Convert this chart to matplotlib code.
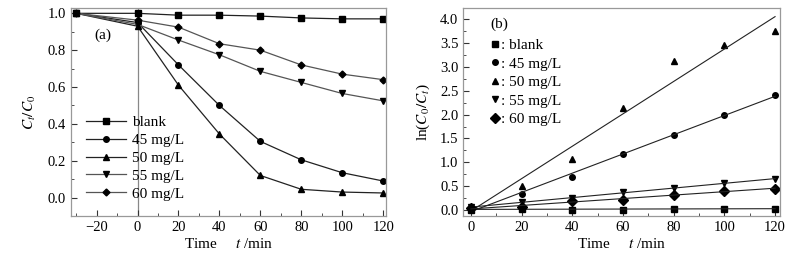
import numpy as np
import matplotlib
matplotlib.use("Agg")
import matplotlib.pyplot as plt
from matplotlib.ticker import MultipleLocator

plt.rcParams['font.family'] = 'serif'
plt.rcParams['font.serif'] = ['Liberation Serif', 'DejaVu Serif']
plt.rcParams['mathtext.fontset'] = 'stix'

# (a) C/C0 versus time
t_a = [-30, 0, 20, 40, 60, 80, 100, 120]
blank_a = [1.0, 1.0, 0.99, 0.99, 0.985, 0.975, 0.97, 0.97]
c45_a = [1.0, 0.95, 0.72, 0.50, 0.305, 0.205, 0.135, 0.09]
c50_a = [1.0, 0.93, 0.61, 0.345, 0.12, 0.045, 0.03, 0.025]
c55_a = [1.0, 0.94, 0.855, 0.775, 0.685, 0.625, 0.565, 0.525]
c60_a = [1.0, 0.963, 0.925, 0.835, 0.80, 0.72, 0.67, 0.64]

# (b) ln(C0/C) versus time
t_b = [0, 20, 40, 60, 80, 100, 120]
blank_b = [0.01, 0.03, 0.01, 0.01, 0.02, 0.03, 0.03]
c45_b = [0.05, 0.33, 0.69, 1.18, 1.58, 1.99, 2.41]
c50_b = [0.07, 0.50, 1.07, 2.14, 3.12, 3.47, 3.75]
c55_b = [0.06, 0.16, 0.25, 0.37, 0.47, 0.56, 0.65]
c60_b = [0.04, 0.07, 0.18, 0.22, 0.32, 0.40, 0.45]

labels = ['blank', '45 mg/L', '50 mg/L', '55 mg/L', '60 mg/L']
markers = ['s', 'o', '^', 'v', 'D']
msizes = [4, 4, 4.5, 4.5, 3.5]
line_colors = ['#222222', '#222222', '#222222', '#555555', '#555555']
frame_color = '#999999'

fig = plt.figure(figsize=(7.98, 2.57), dpi=100)
ax1 = fig.add_axes([0.089, 0.1595, 0.395, 0.808])
ax2 = fig.add_axes([0.5806, 0.1595, 0.397, 0.808])

series_a = [blank_a, c45_a, c50_a, c55_a, c60_a]
for y, m, ms, lc, lab in zip(series_a, markers, msizes, line_colors, labels):
	ax1.plot(t_a, y, color=lc, lw=0.9, marker=m, ms=ms, mfc='black', mec='black', label=lab)
ax1.axvline(0, color='#888888', lw=0.9, zorder=0)
ax1.set_xlim(-32.5, 121.5)
ax1.set_ylim(-0.10, 1.027)
ax1.xaxis.set_minor_locator(MultipleLocator(10))
ax1.yaxis.set_major_locator(MultipleLocator(0.2))
ax1.yaxis.set_minor_locator(MultipleLocator(0.1))
ax1.yaxis.set_major_formatter(plt.FuncFormatter(lambda v, p: f"{v:.1f}"))
ax1.set_xticks([-20, 0, 20, 40, 60, 80, 100, 120])
ax1.set_xticklabels(['\u221220', '0', '20', '40', '60', '80', '100', '120'])
ax1.set_ylabel(r'$C_t/C_{\rm 0}$', fontsize=11, labelpad=7)
ax1.set_xlabel(r'Time     $t$ /min', fontsize=11, labelpad=2)
ax1.text(0.075, 0.855, '(a)', transform=ax1.transAxes, fontsize=11)
ax1.legend(loc='lower left', bbox_to_anchor=(0.02, 0.03), frameon=False, fontsize=11,
		   handlelength=2.6, handletextpad=0.4, labelspacing=0.27, borderaxespad=0.2)

series_b = [blank_b, c45_b, c50_b, c55_b, c60_b]
msizes_b = [4, 4, 4.5, 4.5, 5]
xfit = np.array([0, 120])
for y, m, ms, lab in zip(series_b, markers, msizes_b, labels):
	ax2.plot(t_b, y, ls='none', marker=m, ms=ms, color='black', label=': ' + lab)
	k, b = np.polyfit(t_b, y, 1)
	ax2.plot(xfit, k * xfit + b, color='#222222', lw=0.8)
ax2.set_xlim(-3, 122)
ax2.set_ylim(-0.126, 4.23)
ax2.xaxis.set_major_locator(MultipleLocator(20))
ax2.xaxis.set_minor_locator(MultipleLocator(10))
ax2.yaxis.set_major_locator(MultipleLocator(0.5))
ax2.yaxis.set_minor_locator(MultipleLocator(0.25))
ax2.yaxis.set_major_formatter(plt.FuncFormatter(lambda v, p: f"{v:.1f}"))
ax2.set_ylabel(r'ln($C_{\rm 0}/C_t$)', fontsize=11, labelpad=6)
ax2.set_xlabel(r'Time     $t$ /min', fontsize=11, labelpad=2)
ax2.text(0.085, 0.905, '(b)', transform=ax2.transAxes, fontsize=11)
ax2.legend(loc='upper left', bbox_to_anchor=(0.07, 0.885), frameon=False, fontsize=11,
		   handlelength=0.5, handletextpad=0.1, labelspacing=0.32, borderaxespad=0.0)

for ax in (ax1, ax2):
	for s in ax.spines.values():
		s.set_color(frame_color)
		s.set_linewidth(0.9)
	ax.tick_params(which='both', direction='in', top=False, right=False, labelsize=10.5, color='#333333')
	ax.tick_params(which='major', length=4)
	ax.tick_params(which='minor', length=2)

fig.savefig('out.png', dpi=100)
